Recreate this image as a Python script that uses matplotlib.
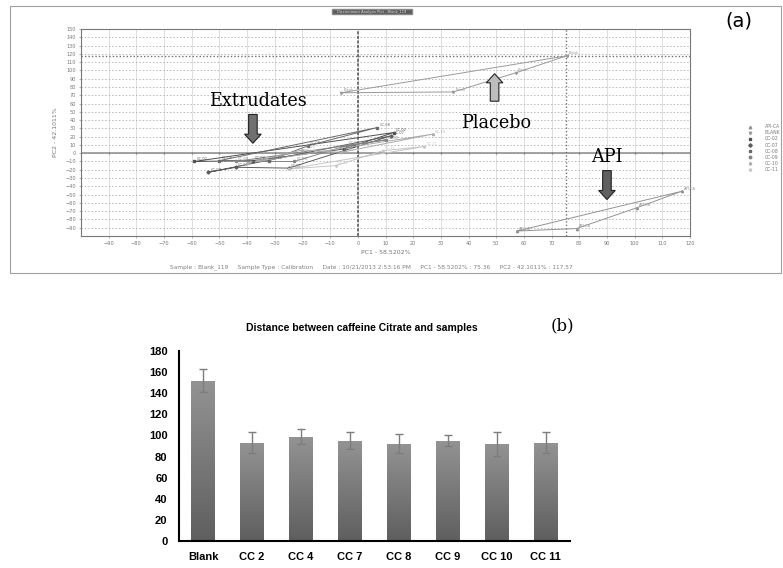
"""Two-panel figure: (a) PCA scores screenshot, (b) distance bar chart."""
import matplotlib
matplotlib.use("Agg")
import matplotlib.pyplot as plt
import numpy as np
from matplotlib.colors import LinearSegmentedColormap
from matplotlib.lines import Line2D
from matplotlib.patches import FancyArrow, Rectangle

# --- data: panel (a), PCA score loops (PC1, PC2) per sample -----------
series_names = ["API-CA", "BLANK", "CC-02", "CC-07", "CC-08", "CC-09", "CC-10", "CC-11"]
series_labels = ["API-CA", "Blank", "CC-02", "CC-07", "CC-08", "CC-09", "CC-10", "CC-11"]
api_pc1 = [57.5, 79, 100.7, 117]
api_pc2 = [-94, -91, -66, -46]
blank_pc1 = [-6, 34.5, 57, 75.4]
blank_pc2 = [73, 74, 97, 117.6]
cc02_pc1 = [-59, -38, -5, 13]
cc02_pc2 = [-10, -9, 5, 25]
cc07_pc1 = [-54, -44, -25, 12]
cc07_pc2 = [-23, -17, -18, 21]
cc08_pc1 = [-50, -32, -18, 7]
cc08_pc2 = [-9, -9, 9, 31]
cc09_pc1 = [-44, -23, -4, 10]
cc09_pc2 = [-10, -10, 9, 16]
cc10_pc1 = [-40, -20, -6, 27]
cc10_pc2 = [-12, 4, 1, 23]
cc11_pc1 = [-25, -8, 9, 24]
cc11_pc2 = [-19, -15, 3, 8]
cursor_pc1, cursor_pc2 = 75.36, 117.57

# --- data: panel (b) ---------------------------------------------------
samples = ["Blank", "CC 2", "CC 4", "CC 7", "CC 8", "CC 9", "CC 10", "CC 11"]
distance = [152, 93, 99, 95, 92, 95, 92, 93]
distance_err = [11, 10, 7, 8, 9, 5, 11, 10]

W, H = 783, 568
fig = plt.figure(figsize=(W / 100, H / 100), dpi=100)

def fx(px):
    return px / W

def fy(py):
    return 1 - py / H

# outer screenshot frame + window title bar
fig.patches.append(Rectangle((fx(10), fy(273)), fx(771), 267 / H, transform=fig.transFigure,
                             fill=False, edgecolor="#a0a0a0", lw=0.8))
fig.patches.append(Rectangle((fx(332), fy(14)), fx(80), 5 / H, transform=fig.transFigure,
                             facecolor="#5a5a5a", edgecolor="#888"))
fig.text(fx(372), fy(11.5), "Discriminant Analysis Plot - Blank_119", fontsize=2.6,
         color="#dddddd", ha="center", va="center")

# ======================= panel (a) ======================================
ax = fig.add_axes([fx(81), fy(236), fx(690 - 81), (236 - 29) / H])
ax.set_xlim(-100, 120)
ax.set_ylim(-100, 150)
xt = np.arange(-90, 121, 10)
yt = np.arange(-90, 151, 10)
ax.set_xticks(xt)
ax.set_yticks(yt)
ax.tick_params(labelsize=3.6, colors="#777", length=1.5, width=0.4, pad=2)
for s in ax.spines.values():
    s.set_color("#777")
    s.set_linewidth(0.8)
for v in xt[:-1]:
    ax.axvline(v, color="#d8d8d8", lw=0.6, zorder=0)
for v in yt[:-1]:
    ax.axhline(v, color="#b8b8b8", lw=0.7, ls=(0, (1.5, 2)), zorder=0)

ax.axhline(0, color="#8a8a8a", lw=1.1, zorder=1)
ax.plot(xt, np.zeros_like(xt), ls="none", marker="|", ms=2, color="#808080", zorder=1)
ax.axvline(0, color="#505050", lw=1.1, ls=(0, (2, 1)), zorder=1)
ax.axhline(cursor_pc2, color="#707070", lw=1.0, ls=(0, (1, 1.5)), zorder=1)
ax.axvline(cursor_pc1, color="#707070", lw=1.0, ls=(0, (1, 1.5)), zorder=1)

ax.set_xlabel("PC1 - 58.5202%", fontsize=4.5, color="#777", labelpad=3)
ax.set_ylabel("PC2 - 42.1011%", fontsize=4.5, color="#777", labelpad=5)

pc1_all = [api_pc1, blank_pc1, cc02_pc1, cc07_pc1, cc08_pc1, cc09_pc1, cc10_pc1, cc11_pc1]
pc2_all = [api_pc2, blank_pc2, cc02_pc2, cc07_pc2, cc08_pc2, cc09_pc2, cc10_pc2, cc11_pc2]
line_cols = ["#939393", "#9a9a9a", "#505050", "#5c5c5c", "#6a6a6a", "#848484", "#ababab", "#c6c6c6"]
markers = ["^", "v", "s", "D", "s", "o", "^", "v"]
for name, lab, px, py, c, m in zip(series_names, series_labels, pc1_all, pc2_all,
                                   line_cols, markers):
    xs = list(px) + [px[0]]
    ys = list(py) + [py[0]]
    ax.plot(xs, ys, color=c, lw=0.7, zorder=3)
    ax.plot(px, py, ls="none", marker=m, ms=1.6, color=c, zorder=4)
    for x, y in zip(px, py):
        ax.text(x + 0.8, y + 0.5, lab, fontsize=2.6, color=c, va="bottom", zorder=4)

# block arrows + annotations
ax.add_patch(FancyArrow(-37.9, 46.8, 0, -34.8, width=3.1, head_width=6.0, head_length=11,
                        length_includes_head=True, facecolor="#707070",
                        edgecolor="#222", lw=0.8, zorder=6))
ax.text(-36, 63.6, "Extrudates", family="DejaVu Serif", fontsize=12.7, ha="center",
        va="center", zorder=6)
ax.add_patch(FancyArrow(49.4, 62.8, 0, 33.2, width=3.1, head_width=6.0, head_length=11,
                        length_includes_head=True, facecolor="#bdbdbd",
                        edgecolor="#222", lw=0.8, zorder=6))
ax.text(50, 36, "Placebo", family="DejaVu Serif", fontsize=12.7, ha="center",
        va="center", zorder=6)
ax.add_patch(FancyArrow(90, -21, 0, -35, width=3.1, head_width=6.0, head_length=11,
                        length_includes_head=True, facecolor="#606060",
                        edgecolor="#222", lw=0.8, zorder=6))
ax.text(90, -4.8, "API", family="DejaVu Serif", fontsize=12.7, ha="center",
        va="center", zorder=6)

# legend to the right of the plot
handles = [Line2D([], [], ls="none", marker=m, ms=1.8, color=c)
           for m, c in zip(markers, line_cols)]
fig.legend(handles, series_names, loc="upper left", bbox_to_anchor=(fx(744), fy(120)),
           fontsize=3.3, frameon=False, handlelength=0.8, handletextpad=2.8,
           labelspacing=0.25, labelcolor="#777")

fig.text(fx(371), fy(267), "Sample : Blank_119     Sample Type : Calibration     "
         "Date : 10/21/2013 2:53:16 PM     PC1 - 58.5202% : 75.36     "
         "PC2 - 42.1011% : 117.57", fontsize=4.2, color="#808080",
         ha="center", va="center")
fig.text(fx(739), fy(21), "(a)", fontsize=14, ha="center", va="center")

# ======================= panel (b) ======================================
bx = fig.add_axes([fx(178.7), fy(541), fx(570 - 178.7), (541 - 351) / H])
pos = np.arange(len(samples))
bars = bx.bar(pos, distance, width=0.49, color="#7a7a7a", zorder=2)
grad = LinearSegmentedColormap.from_list("g", ["#5f5f5f", "#939393"])
for b in bars:
    x0, w, h = b.get_x(), b.get_width(), b.get_height()
    im = bx.imshow(np.linspace(0, 1, 64).reshape(-1, 1), cmap=grad, origin="lower",
                   extent=[x0, x0 + w, 0, h], aspect="auto", zorder=2)
    im.set_clip_path(b)
bx.errorbar(pos, distance, yerr=distance_err, fmt="none", ecolor="#7d7d7d",
            elinewidth=1.0, capsize=3, capthick=1.0, zorder=3)
bx.set_xlim(-0.5, 7.5)
bx.set_ylim(0, 180)
bx.set_yticks(np.arange(0, 181, 20))
bx.set_xticks(pos)
bx.set_xticklabels(samples)
for lab in bx.get_xticklabels() + bx.get_yticklabels():
    lab.set_family("Liberation Sans")
    lab.set_fontweight("bold")
    lab.set_fontsize(8)
bx.tick_params(axis="both", length=0)
bx.tick_params(axis="y", pad=8)
bx.tick_params(axis="x", pad=8)
for side in ("top", "right"):
    bx.spines[side].set_visible(False)
for side in ("left", "bottom"):
    bx.spines[side].set_linewidth(1.5)
    bx.spines[side].set_color("black")

fig.text(fx(362), fy(328), "Distance between caffeine Citrate and samples",
         family="Liberation Sans", fontweight="bold", fontsize=7.5,
         ha="center", va="center")
fig.text(fx(562), fy(326), "(b)", family="DejaVu Serif", fontsize=12,
         ha="center", va="center")

fig.savefig("out.png", dpi=100)
